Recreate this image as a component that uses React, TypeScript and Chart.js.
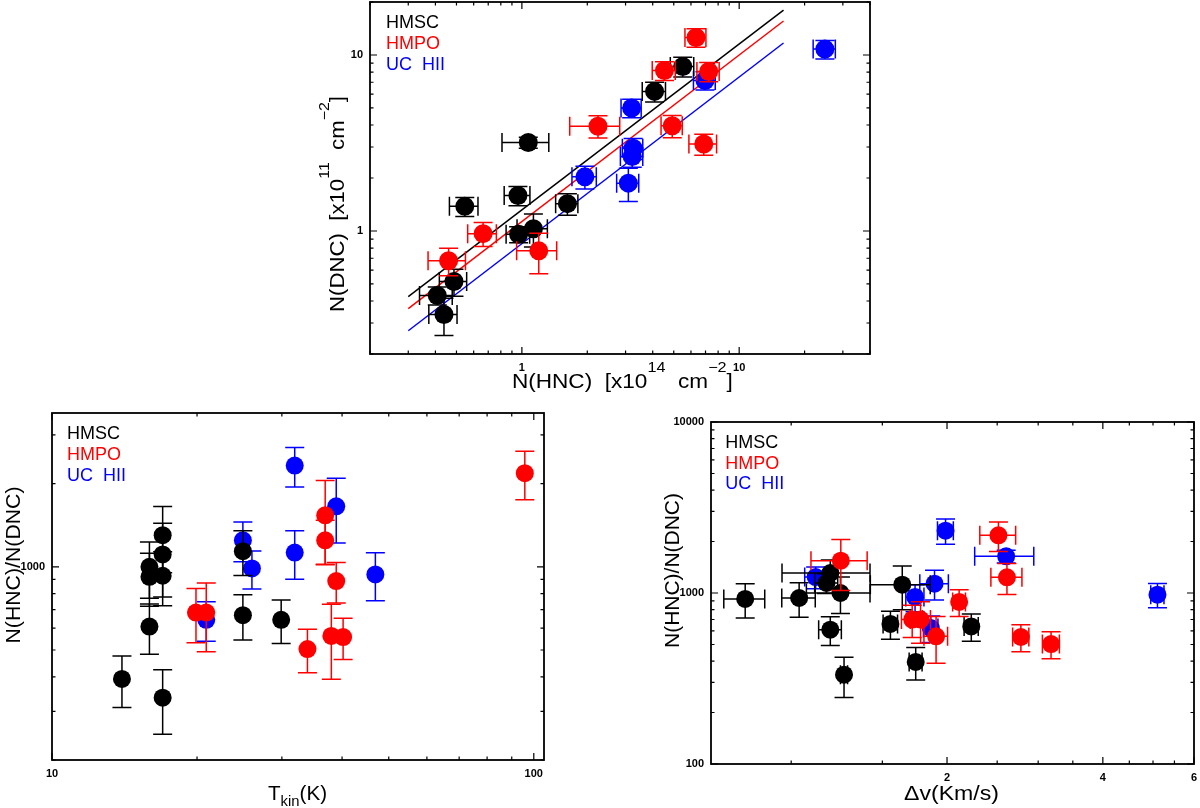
import React, { useEffect, useRef } from "react";
import { Chart, registerables } from "chart.js";
Chart.register(...registerables);

const FONT = '"Liberation Sans", Arial, Helvetica, sans-serif';
const BLACK = "#000000";
const RED = "#ff0000";
const BLUE = "#0000ff";
const GROUP_LABELS = ["HMSC", "HMPO", "UC  HII"];

// ---------- Panel (top): N(DNC) vs N(HNC); rows [N(HNC), err, N(DNC), err]
const colHMSC = [
  [1.07, 0.26, 3.18, 0.23],
  [0.546, 0.082, 1.38, 0.17],
  [0.959, 0.13, 1.59, 0.2],
  [1.62, 0.19, 1.43, 0.2],
  [0.966, 0.12, 0.957, 0.1],
  [1.13, 0.18, 1.03, 0.22],
  [0.487, 0.07, 0.516, 0.09],
  [0.408, 0.07, 0.43, 0.05],
  [0.438, 0.065, 0.335, 0.08],
  [4.08, 0.5, 6.21, 0.8],
  [5.5, 0.68, 8.6, 1.1],
];
const colHMPO = [
  [6.33, 0.7, 12.58, 1.5],
  [4.53, 0.55, 8.16, 1.0],
  [7.24, 0.85, 8.05, 1.0],
  [2.24, 0.58, 3.94, 0.57],
  [4.92, 0.55, 3.96, 0.57],
  [6.87, 1.0, 3.12, 0.43],
  [0.663, 0.1, 0.966, 0.15],
  [1.196, 0.25, 0.771, 0.2],
  [0.46, 0.09, 0.677, 0.12],
];
const colUCHII = [
  [24.8, 2.9, 10.8, 1.3],
  [6.96, 0.8, 7.17, 0.85],
  [3.2, 0.34, 5.0, 0.6],
  [1.95, 0.25, 2.03, 0.3],
  [3.25, 0.35, 2.95, 0.4],
  [3.22, 0.38, 2.65, 0.35],
  [3.09, 0.36, 1.87, 0.4],
];
const fitX = [0.3, 16];
const fitHMSC = [0.424, 18.0];
const fitHMPO = [0.362, 15.6];
const fitUCHII = [0.271, 11.7];

// ---------- Panel (bottom-left): ratio vs Tkin; rows [Tkin, ratio, err]
const tkHMSC = [
  [13.97, 393, 83],
  [15.93, 1000, 230],
  [15.93, 920, 200],
  [15.93, 608, 125],
  [16.97, 1301, 350],
  [16.97, 1108, 330],
  [16.97, 928, 205],
  [16.97, 336, 88],
  [24.9, 1139, 210],
  [24.9, 668, 125],
  [29.9, 643, 115],
];
const tkHMPO = [
  [19.9, 683, 152],
  [20.9, 683, 190],
  [33.9, 504, 90],
  [36.9, 1535, 517],
  [36.9, 1247, 225],
  [38.0, 562, 170],
  [38.9, 888, 148],
  [40.2, 557, 95],
  [95.8, 2181, 435],
];
const tkUCHII = [
  [20.9, 643, 105],
  [24.9, 1247, 205],
  [26.0, 986, 155],
  [31.9, 2323, 380],
  [31.9, 1126, 225],
  [38.9, 1654, 435],
  [46.9, 938, 185],
];

// ---------- Panel (bottom-right): ratio vs linewidth; rows [dv, err, ratio, err]
const dvHMSC = [
  [0.815, 0.074, 923, 210],
  [1.036, 0.077, 935, 213],
  [1.19, 0.23, 1309, 250],
  [1.17, 0.06, 1144, 150],
  [1.245, 0.175, 1000, 240],
  [1.19, 0.06, 610, 117],
  [1.265, 0.02, 333, 88],
  [1.555, 0.05, 659, 123],
  [1.639, 0.217, 1119, 320],
  [1.74, 0.05, 395, 85],
  [2.228, 0.07, 638, 115],
];
const dvHMPO = [
  [1.247, 0.155, 1545, 510],
  [1.713, 0.08, 699, 150],
  [1.778, 0.08, 699, 190],
  [1.905, 0.1, 558, 170],
  [2.111, 0.06, 886, 157],
  [2.514, 0.2, 2174, 425],
  [2.611, 0.18, 1235, 255],
  [2.778, 0.1, 553, 100],
  [3.177, 0.12, 503, 90],
];
const dvUCHII = [
  [1.115, 0.053, 1240, 180],
  [1.987, 0.07, 2315, 390],
  [2.602, 0.34, 1639, 140],
  [1.892, 0.12, 1134, 225],
  [1.735, 0.07, 948, 170],
  [1.861, 0.06, 624, 110],
  [5.1, 0.15, 978, 158],
];

// ---------- tick labels
const colXTickLabels = [1, 10];
const colYTickLabels = [1, 10];
const tkXTickLabels = [10, 100];
const tkYTickLabels = [1000];
const dvXTicks = [1, 1.5, 2, 2.5, 3, 3.5, 4, 4.5, 5, 5.5, 6];
const dvXTickLabels = [2, 4, 6];
const dvYTickLabels = [100, 1000, 10000];

// ---------- layout constants
const YW = 60;
const XH = 50;
const PT = 20;
const PR = 20;
const CAP = 9.5;
const TITLE_SIZE = 19.5;

type Seg = [string, number];

interface Series {
  color: string;
  pts: { x: number; y: number }[];
  ex: number[] | null;
  ey: number[] | null;
  order: number;
}

interface TitleCfg {
  segs: Seg[];
  c: number; // centre along text direction (page px)
  base: number; // baseline position (page px)
  w: number; // target width
}

interface PanelCfg {
  id: string;
  frame: { L: number; R: number; T: number; B: number };
  xMin: number; xMax: number; yMin: number; yMax: number;
  xTicks: number[]; yTicks: number[];
  xLabels: number[]; yLabels: number[];
  xMajor: number[]; yMajor: number[];
  series: Series[];
  lines: { color: string; ys: number[] }[];
  r: number;
  xTitle: TitleCfg;
  yTitle: TitleCfg;
  legend: [number, number, number];
}

function logTicks(min: number, max: number): number[] {
  const out: number[] = [];
  for (let e = Math.floor(Math.log10(min)); e <= Math.ceil(Math.log10(max)); e++) {
    for (let m = 1; m <= 9; m++) {
      const v = parseFloat((m * Math.pow(10, e)).toPrecision(6));
      if (v >= min * 0.999 && v <= max * 1.001) out.push(v);
    }
  }
  return out;
}

const inList = (list: number[], v: number) => list.some((l) => Math.abs(l - v) / l < 1e-6);

function fourCol(rows: number[][], color: string, order: number): Series {
  return {
    color,
    order,
    pts: rows.map((r) => ({ x: r[0], y: r[2] })),
    ex: rows.map((r) => r[1]),
    ey: rows.map((r) => r[3]),
  };
}
function threeCol(rows: number[][], color: string, order: number): Series {
  return {
    color,
    order,
    pts: rows.map((r) => ({ x: r[0], y: r[1] })),
    ex: null,
    ey: rows.map((r) => r[2]),
  };
}

const PANELS: PanelCfg[] = [
  {
    id: "col",
    frame: { L: 370, R: 870, T: 2, B: 354 },
    xMin: 0.2, xMax: 40, yMin: 0.2, yMax: 20,
    xTicks: logTicks(0.2, 40), yTicks: logTicks(0.2, 20),
    xLabels: colXTickLabels, yLabels: colYTickLabels,
    xMajor: colXTickLabels, yMajor: colYTickLabels,
    series: [fourCol(colHMPO, RED, 1), fourCol(colHMSC, BLACK, 2), fourCol(colUCHII, BLUE, 3)],
    lines: [
      { color: BLACK, ys: fitHMSC },
      { color: RED, ys: fitHMPO },
      { color: BLUE, ys: fitUCHII },
    ],
    r: 9.5,
    xTitle: {
      segs: [["N(HNC)  [x10", 0], ["14", 1], ["  cm", 0], ["\u22122", 1], ["]", 0]],
      c: 622.4, base: 387.5, w: 221,
    },
    yTitle: {
      segs: [["N(DNC)  [x10", 0], ["11", 1], ["  cm", 0], ["\u22122", 1], ["]", 0]],
      c: 204, base: 344, w: 216,
    },
    legend: [386, 28.3, 21],
  },
  {
    id: "tk",
    frame: { L: 52, R: 544, T: 413, B: 760 },
    xMin: 10, xMax: 105, yMin: 200, yMax: 3600,
    xTicks: logTicks(10, 105), yTicks: logTicks(200, 3600),
    xLabels: tkXTickLabels, yLabels: tkYTickLabels,
    xMajor: tkXTickLabels, yMajor: tkYTickLabels,
    series: [threeCol(tkHMPO, RED, 1), threeCol(tkHMSC, BLACK, 2), threeCol(tkUCHII, BLUE, 3)],
    lines: [],
    r: 9,
    xTitle: { segs: [["T", 0], ["kin", -1], ["(K)", 0]], c: 297.5, base: 800, w: 59 },
    yTitle: { segs: [["N(HNC)/N(DNC)", 0]], c: 565, base: 19.6, w: 157 },
    legend: [67, 439.3, 20.7],
  },
  {
    id: "dv",
    frame: { L: 711, R: 1194, T: 422, B: 764 },
    xMin: 0.7, xMax: 6, yMin: 100, yMax: 10000,
    xTicks: dvXTicks, yTicks: logTicks(100, 10000),
    xLabels: dvXTickLabels, yLabels: dvYTickLabels,
    xMajor: dvXTickLabels, yMajor: dvYTickLabels,
    series: [fourCol(dvHMPO, RED, 1), fourCol(dvHMSC, BLACK, 2), fourCol(dvUCHII, BLUE, 3)],
    lines: [],
    r: 9,
    xTitle: { segs: [["\u0394v(Km/s)", 0]], c: 951.5, base: 800, w: 95 },
    yTitle: { segs: [["N(HNC)/N(DNC)", 0]], c: 570.5, base: 679, w: 155 },
    legend: [725.3, 448.3, 20.5],
  },
];

// draws text centred at (0,0) baseline, stretched horizontally to the target width
function drawRich(ctx: CanvasRenderingContext2D, segs: Seg[], size: number, targetW: number) {
  const small = Math.round(size * 0.72);
  const fontFor = (k: number) => `${k === 0 ? size : small}px ${FONT}`;
  const widths = segs.map(([t, k]) => {
    ctx.font = fontFor(k);
    return ctx.measureText(t).width;
  });
  const total = widths.reduce((a, b) => a + b, 0);
  const sx = targetW > 0 ? targetW / total : 1;
  ctx.save();
  ctx.scale(sx, 1);
  let x = -total / 2;
  ctx.textAlign = "left";
  ctx.textBaseline = "alphabetic";
  segs.forEach(([t, k], i) => {
    ctx.font = fontFor(k);
    const dy = k === 1 ? -size * 0.78 : k === -1 ? size * 0.3 : 0;
    ctx.fillText(t, x, dy);
    x += widths[i];
  });
  ctx.restore();
}

function makePlugin(p: PanelCfg) {
  const ox = p.frame.L - YW;
  const oy = p.frame.T - PT;
  return {
    id: "idl-" + p.id,
    beforeDatasetDraw(chart: any, args: any) {
      const s = p.series[args.index];
      if (!s) return;
      const ctx: CanvasRenderingContext2D = chart.ctx;
      const xs = chart.scales.x;
      const ys = chart.scales.y;
      const a = chart.chartArea;
      ctx.save();
      ctx.beginPath();
      ctx.rect(a.left, a.top, a.right - a.left, a.bottom - a.top);
      ctx.clip();
      ctx.strokeStyle = s.color;
      ctx.lineWidth = 1.5;
      s.pts.forEach((pt, i) => {
        const px = xs.getPixelForValue(pt.x);
        const py = ys.getPixelForValue(pt.y);
        ctx.beginPath();
        if (s.ey) {
          const e = s.ey[i];
          const y1 = ys.getPixelForValue(pt.y + e);
          const y2 = ys.getPixelForValue(Math.max(pt.y - e, pt.y * 0.02));
          ctx.moveTo(px, y1); ctx.lineTo(px, y2);
          ctx.moveTo(px - CAP, y1); ctx.lineTo(px + CAP, y1);
          ctx.moveTo(px - CAP, y2); ctx.lineTo(px + CAP, y2);
        }
        if (s.ex) {
          const e = s.ex[i];
          const x1 = xs.getPixelForValue(Math.max(pt.x - e, pt.x * 0.02));
          const x2 = xs.getPixelForValue(pt.x + e);
          ctx.moveTo(x1, py); ctx.lineTo(x2, py);
          ctx.moveTo(x1, py - CAP); ctx.lineTo(x1, py + CAP);
          ctx.moveTo(x2, py - CAP); ctx.lineTo(x2, py + CAP);
        }
        ctx.stroke();
      });
      ctx.restore();
    },
    afterDraw(chart: any) {
      const ctx: CanvasRenderingContext2D = chart.ctx;
      const a = chart.chartArea;
      const xs = chart.scales.x;
      const ys = chart.scales.y;
      ctx.save();
      ctx.strokeStyle = "#000";
      ctx.lineWidth = 1.8;
      ctx.strokeRect(a.left, a.top, a.right - a.left, a.bottom - a.top);
      ctx.lineWidth = 1.2;
      ctx.beginPath();
      xs.ticks.forEach((t: any) => {
        const px = xs.getPixelForValue(t.value);
        const len = inList(p.xMajor, t.value) ? 7 : 3.5;
        ctx.moveTo(px, a.bottom); ctx.lineTo(px, a.bottom - len);
        ctx.moveTo(px, a.top); ctx.lineTo(px, a.top + len);
      });
      ys.ticks.forEach((t: any) => {
        const py = ys.getPixelForValue(t.value);
        const len = inList(p.yMajor, t.value) ? 7 : 3.5;
        ctx.moveTo(a.left, py); ctx.lineTo(a.left + len, py);
        ctx.moveTo(a.right, py); ctx.lineTo(a.right - len, py);
      });
      ctx.stroke();

      // axis titles
      ctx.fillStyle = "#000";
      ctx.save();
      ctx.translate(p.xTitle.c - ox, p.xTitle.base - oy);
      drawRich(ctx, p.xTitle.segs, TITLE_SIZE, p.xTitle.w);
      ctx.restore();
      ctx.save();
      ctx.translate(p.yTitle.base - ox, p.yTitle.c - oy);
      ctx.rotate(-Math.PI / 2);
      drawRich(ctx, p.yTitle.segs, TITLE_SIZE, p.yTitle.w);
      ctx.restore();

      // legend
      const cols = [BLACK, RED, BLUE];
      ctx.font = `18px ${FONT}`;
      ctx.textAlign = "left";
      ctx.textBaseline = "alphabetic";
      GROUP_LABELS.forEach((lab, i) => {
        ctx.fillStyle = cols[i];
        ctx.fillText(lab, p.legend[0] - ox, p.legend[1] + i * p.legend[2] - oy);
      });
      ctx.restore();
    },
  };
}

function makeConfig(p: PanelCfg): any {
  const datasets: any[] = p.series.map((s) => ({
    type: "scatter",
    data: s.pts,
    backgroundColor: s.color,
    borderColor: s.color,
    borderWidth: 0,
    pointRadius: p.r,
    pointHoverRadius: p.r,
    pointStyle: "circle",
    order: s.order,
  }));
  p.lines.forEach((l, i) => {
    datasets.push({
      type: "scatter",
      showLine: true,
      data: fitX.map((x, j) => ({ x, y: l.ys[j] })),
      borderColor: l.color,
      backgroundColor: l.color,
      borderWidth: 1.5,
      pointRadius: 0,
      pointHoverRadius: 0,
      order: 10 + i,
    });
  });
  const tickFont = { family: FONT, size: 11, weight: "bold" as const };
  const axis = (min: number, max: number, ticks: number[], labels: number[], isX: boolean) => ({
    type: "logarithmic",
    position: isX ? "bottom" : "left",
    min,
    max,
    grid: { display: false, drawTicks: false },
    border: { display: false },
    afterBuildTicks: (s: any) => {
      s.ticks = ticks.map((v) => ({ value: v }));
    },
    afterFit: (s: any) => {
      if (isX) s.height = XH;
      else s.width = YW;
    },
    ticks: {
      autoSkip: false,
      maxRotation: 0,
      minRotation: 0,
      padding: isX ? 7 : 7,
      color: "#000",
      font: tickFont,
      callback: (v: any) => (inList(labels, Number(v)) ? String(v) : ""),
    },
  });
  return {
    type: "scatter",
    data: { datasets },
    options: {
      animation: false,
      responsive: true,
      maintainAspectRatio: false,
      events: [],
      layout: { padding: { left: 0, top: PT, right: PR, bottom: 0 } },
      plugins: { legend: { display: false }, tooltip: { enabled: false } },
      scales: {
        x: axis(p.xMin, p.xMax, p.xTicks, p.xLabels, true),
        y: axis(p.yMin, p.yMax, p.yTicks, p.yLabels, false),
      },
    },
    plugins: [makePlugin(p)],
  };
}

function Panel({ p }: { p: PanelCfg }) {
  const ref = useRef<HTMLCanvasElement | null>(null);
  useEffect(() => {
    if (!ref.current) return;
    const chart = new Chart(ref.current, makeConfig(p));
    return () => chart.destroy();
  }, [p]);
  const { L, R, T, B } = p.frame;
  const left = L - YW;
  const top = T - PT;
  const width = R - L + YW + PR;
  const height = B - T + PT + XH;
  return (
    <div style={{ position: "absolute", left, top, width, height }}>
      <canvas ref={ref} />
    </div>
  );
}

export default function App() {
  return (
    <div
      style={{
        position: "absolute",
        left: 0,
        top: 0,
        width: 1200,
        height: 808,
        overflow: "hidden",
        background: "#fff",
      }}
    >
      {PANELS.map((p) => (
        <Panel key={p.id} p={p} />
      ))}
    </div>
  );
}
